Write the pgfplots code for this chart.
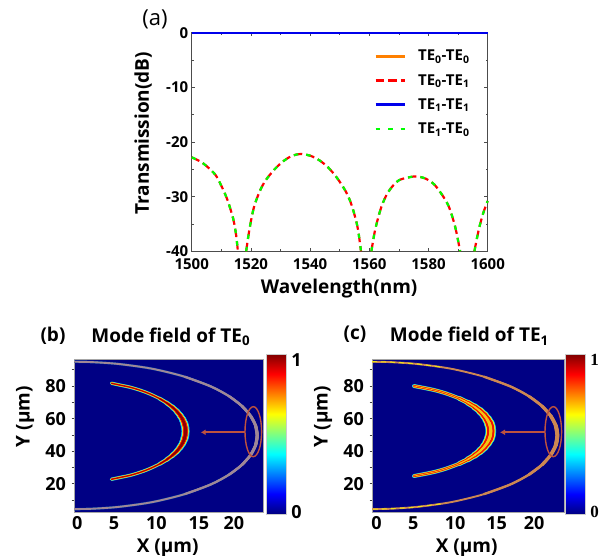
\documentclass[border=0pt]{standalone}
\usepackage{pgfplots}
\usepackage{pgfplotstable}
\usepackage{fontspec}
\pgfplotsset{compat=1.18}
\setmainfont{Open Sans}
\newfontfamily\serifb{Liberation Serif}
\usetikzlibrary{arrows.meta}
\definecolor{navy}{RGB}{0,0,132}
\definecolor{annot}{RGB}{190,82,62}
\definecolor{lineor}{RGB}{255,128,0}
\definecolor{lineblue}{RGB}{0,0,235}
\definecolor{linegreen}{RGB}{0,255,0}
\definecolor{outerb}{RGB}{160,135,150}
\definecolor{outerc}{RGB}{205,135,82}
\definecolor{jcyan}{RGB}{0,190,255}
\definecolor{jyellow}{RGB}{235,245,30}
\definecolor{jred}{RGB}{240,20,0}
\definecolor{jdark}{RGB}{140,0,0}
\newcommand\fs[1]{\fontsize{#1}{#1}\selectfont}

\pgfplotstableread{
x y
1500 -22.8
1503 -23.6
1505 -24.4
1508 -26
1510 -28
1512 -30.5
1514 -34
1515 -37
1515.6 -40
}\curveA
\pgfplotstableread{
x y
1518.4 -40
1519.5 -36
1521 -32
1523 -29
1525 -27
1528 -25
1531 -23.5
1534 -22.5
1537 -22.2
1540 -22.5
1543 -23.3
1546 -24.6
1549 -26.5
1552 -29
1554 -31.5
1556 -35.5
1557.2 -40
}\curveB
\pgfplotstableread{
x y
1560.7 -40
1562 -36
1564 -32
1566 -29.5
1568 -28
1570 -27
1573 -26.5
1576 -26.3
1579 -26.7
1582 -27.8
1585 -30
1587 -32
1589 -35.5
1590.7 -40
}\curveC
\pgfplotstableread{
x y
1595.5 -40
1597 -36
1598.5 -33
1600 -30.8
}\curveD

\pgfplotstableread{
x y
0 94.9
2.07 94.7
5.04 93.7
8.13 91.7
10.25 89.7
13.30 85.7
16.46 79.7
18.64 73.7
20.18 67.7
21.21 61.7
21.81 55.7
22 49.7
21.81 43.7
21.21 37.7
20.18 31.7
18.64 25.7
16.46 19.7
13.30 13.7
10.25 9.7
8.13 7.7
5.04 5.7
2.07 4.7
0 4.5
}\outerB
\pgfplotstableread{
x y
0 94.9
2.10 94.7
5.11 93.7
8.24 91.7
10.39 89.7
13.48 85.7
16.68 79.7
18.89 73.7
20.46 67.7
21.50 61.7
22.11 55.7
22.3 49.7
22.11 43.7
21.50 37.7
20.46 31.7
18.89 25.7
16.68 19.7
13.48 13.7
10.39 9.7
8.24 7.7
5.11 5.7
2.10 4.7
0 4.5
}\outerC
\pgfplotstableread{
x y
4.5 81.7
5.7 80.4
6.76 79.25
8.05 77.25
9.08 75.25
10.30 72.25
11.10 69.75
11.76 67.25
12.30 64.75
12.70 62.25
13.02 59.75
13.23 57.25
13.36 54.75
13.4 52.25
13.36 49.75
13.23 47.25
13.02 44.75
12.70 42.25
12.30 39.75
11.76 37.25
11.10 34.75
10.30 32.25
9.08 29.25
8.05 27.25
6.76 25.25
5.7 24.1
4.5 22.8
}\innerB
\pgfplotstableread{
x y
5.05 80
6.3 78.8
7.59 77.4
8.95 75.4
10.51 72.4
11.5 69.9
12.31 67.4
12.95 64.9
13.45 62.4
13.82 59.9
14.09 57.4
14.25 54.9
14.3 52.4
14.25 49.9
14.09 47.4
13.82 44.9
13.45 42.4
12.95 39.9
12.31 37.4
11.5 34.9
10.51 32.4
8.95 29.4
7.59 27.4
6.3 26.0
5.05 24.8
}\innerC

% one colour layer of a band: the width grows towards the apex
\newcommand\seg[5]{\addplot[draw=#2,line width=#3pt,smooth,line cap=round,forget plot,restrict y to domain=#4:#5] table {#1};}
\newcommand\segw[7]{\pgfmathsetmacro\wt{#3+(#4-#3)*#5}\edef\tmpseg{\noexpand\seg{\noexpand#1}{#2}{\wt}{#6}{#7}}\tmpseg}
\newcommand\bandB[3]{%
 \segw{\innerB}{#1}{#2}{#3}{0}{0}{100}%
 \segw{\innerB}{#1}{#2}{#3}{.14}{32}{72.5}%
 \segw{\innerB}{#1}{#2}{#3}{.3}{34.5}{70}%
 \segw{\innerB}{#1}{#2}{#3}{.45}{37}{67.5}%
 \segw{\innerB}{#1}{#2}{#3}{.6}{39.5}{65}%
 \segw{\innerB}{#1}{#2}{#3}{.72}{42}{62.5}%
 \segw{\innerB}{#1}{#2}{#3}{.86}{44.5}{60}%
 \segw{\innerB}{#1}{#2}{#3}{1}{47}{57.5}}
\newcommand\bandC[3]{%
 \segw{\innerC}{#1}{#2}{#3}{0}{0}{100}%
 \segw{\innerC}{#1}{#2}{#3}{.14}{32.1}{72.7}%
 \segw{\innerC}{#1}{#2}{#3}{.3}{34.6}{70.2}%
 \segw{\innerC}{#1}{#2}{#3}{.45}{37.1}{67.7}%
 \segw{\innerC}{#1}{#2}{#3}{.6}{39.6}{65.2}%
 \segw{\innerC}{#1}{#2}{#3}{.72}{42.1}{62.7}%
 \segw{\innerC}{#1}{#2}{#3}{.86}{44.6}{60.2}%
 \segw{\innerC}{#1}{#2}{#3}{1}{47.1}{57.7}}
\newcommand\bandO[4]{%
 \segw{#1}{#2}{#3}{#4}{0}{0}{100}%
 \segw{#1}{#2}{#3}{#4}{.2}{13}{86}%
 \segw{#1}{#2}{#3}{#4}{.4}{25}{74}%
 \segw{#1}{#2}{#3}{#4}{.6}{31}{68}%
 \segw{#1}{#2}{#3}{#4}{.8}{37}{62}%
 \segw{#1}{#2}{#3}{#4}{1}{43}{56}}

\pgfplotsset{
 field/.style={
  scale only axis,anchor=south west,
  axis background/.style={fill=navy},
  axis line style={draw=black!35,line width=.5pt},
  ymin=2.3,ymax=96.6,
  ytick={20,40,60,80},minor ytick={10,30,50,70,90},
  ytick pos=left,
  tick align=outside,
  major tick length=2.5pt,minor tick length=2.5pt,
  tick style={black!75,line width=.7pt},
  x tick style={draw=none},
  yticklabel style={font=\bfseries\fs{18},xshift=-2pt},
  xticklabel style={font=\bfseries\fs{18},yshift=2pt},
  /pgf/number format/assume math mode=true,
  label style={font=\bfseries\fs{19}},
  colormap/jet,point meta min=0,point meta max=1,
 }
}
\begin{document}
\begin{tikzpicture}[x=1pt,y=1pt]
\path[use as bounding box] (0,0) rectangle (611,556);

% ---------- (a)
\begin{axis}[
 at={(191.7pt,304.7pt)},anchor=south west,scale only axis,
 width=296pt,height=218.6pt,clip=false,
 xmin=1500,xmax=1600,ymin=-40,ymax=0,
 xtick={1500,1520,...,1600},minor xtick={1510,1530,...,1590},
 ytick={-40,-30,...,0},minor ytick={-35,-25,...,-5},
 tick align=inside,major tick length=3.5pt,minor tick length=2pt,
 tick style={black!70,line width=.6pt},
 axis line style={black!70,line width=.9pt},
 /pgf/number format/assume math mode=true,
 /pgf/number format/1000 sep={},
 ticklabel style={font=\bfseries\fs{15}},
 xticklabel style={yshift=-4pt},
 xlabel={Wavelength(nm)},ylabel={Transmission(dB)},
 label style={font=\bfseries\fs{19}},
 xlabel style={at={(axis description cs:.498,-.172)},anchor=center},
 ylabel style={at={(axis description cs:-.164,.54)},anchor=center},
 legend cell align=left,
 legend style={at={(.616,.93)},anchor=north west,draw=none,fill=none,
   font=\bfseries\fs{15},row sep=8pt,inner sep=0pt},
 legend image code/.code={\draw[#1,line width=2.6pt] (0pt,0pt)--(29pt,0pt);\path (39.5pt,0pt);},
]
\addplot[lineor,line width=1.7pt] coordinates {(1500,0) (1600,0)};
\addlegendentry{TE\textsubscript{0}-TE\textsubscript{0}}
\addplot[red,line width=2.2pt,dash pattern=on 8.5pt off 4pt,smooth] table {\curveA};
\addlegendentry{TE\textsubscript{0}-TE\textsubscript{1}}
\addplot[lineblue,line width=1.7pt] coordinates {(1500,0) (1600,0)};
\addlegendentry{TE\textsubscript{1}-TE\textsubscript{1}}
\addplot[linegreen,line width=2.2pt,dash pattern=on 4.5pt off 8pt,smooth] table {\curveA};
\addlegendentry{TE\textsubscript{1}-TE\textsubscript{0}}
\addplot[red,line width=2.2pt,dash pattern=on 8.5pt off 4pt,smooth,forget plot] table {\curveB};
\addplot[red,line width=2.2pt,dash pattern=on 8.5pt off 4pt,smooth,forget plot] table {\curveC};
\addplot[red,line width=2.2pt,dash pattern=on 8.5pt off 4pt,smooth,forget plot] table {\curveD};
\addplot[linegreen,line width=2.2pt,dash pattern=on 4.5pt off 8pt,smooth,forget plot] table {\curveB};
\addplot[linegreen,line width=2.2pt,dash pattern=on 4.5pt off 8pt,smooth,forget plot] table {\curveC};
\addplot[linegreen,line width=2.2pt,dash pattern=on 4.5pt off 8pt,smooth,forget plot] table {\curveD};
\end{axis}
% overlay axis: keeps the 0 dB line above the frame of the axis
\begin{axis}[
 at={(191.7pt,304.7pt)},anchor=south west,scale only axis,hide axis,
 width=296pt,height=218.6pt,clip=false,
 xmin=1500,xmax=1600,ymin=-40,ymax=0]
\addplot[lineblue,line width=1.7pt] coordinates {(1500,0) (1600,0)};
\end{axis}
\node[font=\fs{22}] at (155,537) {(a)};

% ---------- (b)
\begin{axis}[field,
 at={(74pt,43.3pt)},width=189pt,height=153.7pt,
 xmin=0,xmax=22.7,
 xtick={0.4,4.8,9.9,15,19.2},xticklabels={0,5,10,15,20},
 xlabel={X (µm)},ylabel={Y (µm)},
 xlabel style={at={(axis description cs:.496,-.232)},anchor=center},
 ylabel style={at={(axis description cs:-.259,.625)},anchor=center},
 title={Mode field of TE\textsubscript{0}},
 title style={at={(axis description cs:.512,1.145)},anchor=center,yshift=-6pt,font=\bfseries\fs{19}},
 colorbar,colorbar/width=20.7pt,
 colorbar style={at={(parent axis.north east)},anchor=north west,xshift=-5.5pt,yshift=5pt,
   height=160pt,ytick={0.012,0.965},yticklabels={0,1},
   major tick length=0pt,
   axis line style={draw=black!20,line width=.8pt},
   yticklabel style={font=\bfseries\fs{18},xshift=1pt},
   /pgf/number format/assume math mode=true},
]
\seg{\outerB}{navy!70!cyan}{2.4}{0}{100}
\bandO{\outerB}{outerb}{1.9}{3.2}
\bandB{jcyan}{3.4}{8.0}
\bandB{jyellow}{2.6}{6.2}
\bandB{jred}{1.6}{4.6}
\bandB{jdark}{0.5}{2.5}
\end{axis}
\node[font=\bfseries\fs{19}] at (53,220.3) {(b)};
\draw[annot,line width=1.4pt] (253.3,124.3) ellipse [x radius=8.3,y radius=25];
\draw[annot,line width=2pt,-{Latex[length=5pt,width=6pt]}] (245,123.7) -- (200.7,123.7);

% ---------- (c)
\begin{axis}[field,
 at={(372pt,43.3pt)},width=192pt,height=153.7pt,
 xmin=0,xmax=23.1,
 xtick={0.55,4.95,10,15,19.5},xticklabels={0,5,10,15,20},
 xlabel={X (µm)},ylabel={Y (µm)},
 xlabel style={at={(axis description cs:.493,-.232)},anchor=center},
 ylabel style={at={(axis description cs:-.254,.625)},anchor=center},
 title={Mode field of TE\textsubscript{1}},
 title style={at={(axis description cs:.507,1.149)},anchor=center,yshift=-6pt,font=\bfseries\fs{19}},
 colorbar,colorbar/width=20.7pt,
 colorbar style={at={(parent axis.north east)},anchor=north west,xshift=-7.5pt,yshift=4.7pt,
   height=160pt,ytick={0.012,0.965},yticklabels={0,1},
   major tick length=0pt,
   axis line style={draw=black!20,line width=.8pt},
   yticklabel style={font=\serifb\bfseries\fs{17},xshift=1pt},
   /pgf/number format/assume math mode=true},
]
\bandO{\outerC}{outerc}{1.9}{4.0}
\addplot[draw=jyellow!85!orange,line width=1.1pt,dash pattern=on 5pt off 4pt,forget plot,smooth,restrict x to domain=0:9] table {\outerC};
\bandC{jcyan}{4.0}{10.6}
\bandC{jyellow}{3.2}{9.2}
\bandC{jred}{2.2}{7.2}
\bandC{jyellow!60!orange}{0.7}{3.0}
\end{axis}
\node[font=\bfseries\fs{19}] at (355,222) {(c)};
\draw[annot,line width=1.4pt] (553.3,124.3) ellipse [x radius=8.3,y radius=25];
\draw[annot,line width=2pt,-{Latex[length=5pt,width=6pt]}] (545,123.7) -- (500,123.7);
\end{tikzpicture}
\end{document}
